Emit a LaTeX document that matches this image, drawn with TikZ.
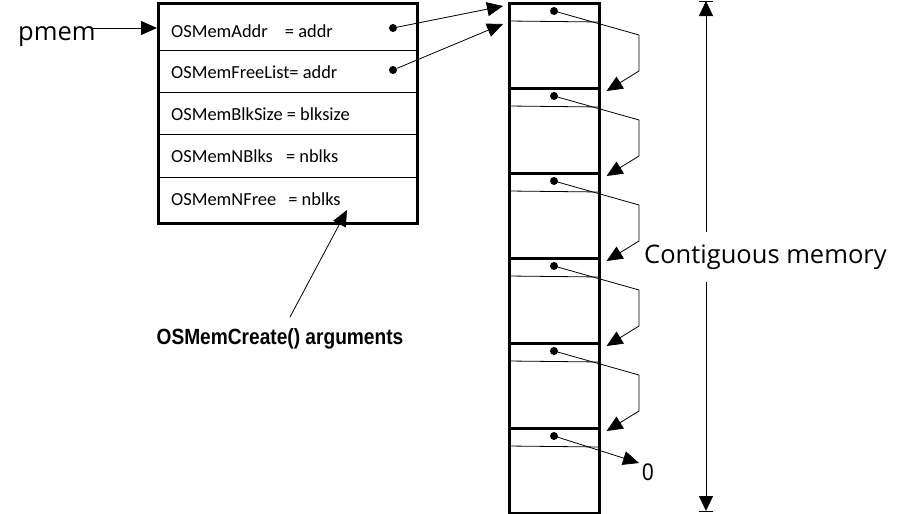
\documentclass[tikz,border=0pt]{standalone}
\usepackage{fontspec}
\setmainfont{Carlito}
\newfontfamily\opensans{Open Sans}
\newfontfamily\narrowfont[FakeStretch=0.87]{Liberation Sans}
\usetikzlibrary{arrows.meta,calc}
\begin{document}
\begin{tikzpicture}[x=1pt,y=-1pt,
  conn/.style={line width=0.8pt},
  arr/.style={conn,-{Triangle[length=16pt,width=14pt]}},
  darr/.style={conn,{Triangle[length=15pt,width=14pt]}-{Triangle[length=15pt,width=14pt]}},
  rowbox/.style={draw,line width=0.8pt,minimum width=259pt,inner sep=0pt,anchor=north west},
  outerbox/.style={draw,line width=2.6pt,minimum width=259pt,minimum height=220pt,inner sep=0pt,anchor=north west},
  memblk/.style={draw,line width=2.6pt,minimum width=90pt,minimum height=85pt,inner sep=0pt,anchor=north west},
  field/.style={anchor=base west,inner sep=0pt,font=\fontsize{18.4}{22}\selectfont},
  dot/.style={circle,fill,inner sep=0pt,minimum size=8pt},
  bigsans/.style={font=\opensans\fontsize{25.5}{30}\selectfont,inner sep=0pt},
  narrowlbl/.style={font=\narrowfont\bfseries\fontsize{22}{26}\selectfont,inner sep=0pt}
]
\useasboundingbox (0,0) rectangle (905,514);

% control block rows
\node[rowbox,minimum height=48pt] (r1) at (157,2) {};
\node[rowbox,minimum height=42pt] (r2) at (157,50) {};
\node[rowbox,minimum height=42pt] (r3) at (157,92) {};
\node[rowbox,minimum height=43pt] (r4) at (157,134) {};
\node[rowbox,minimum height=45pt] (r5) at (157,177) {};
\node[outerbox] (ctrl) at (157,2) {};

\node[field] (t1) at (171,37) {OSMemAddr\hspace{13pt} = addr};
\node[field] (t2) at (171,78.5) {OSMemFreeList= addr};
\node[field] (t3) at (171,120.5) {OSMemBlkSize = blksize};
\node[field] (t4) at (171,162.5) {OSMemNBlks\hspace{9pt} = nblks};
\node[field] (t5) at (171,205) {OSMemNFree\hspace{8pt} = nblks};

\node[dot] (d1) at (393,28) {};
\node[dot] (d2) at (393,70) {};

% pmem
\node[bigsans,anchor=base west] (pmem) at (18,40) {pmem};
\coordinate (pa) at (93,28);
\draw[arr] (pa) -- (ctrl.west |- pa);

% memory blocks
\foreach \i/\t in {0/2,1/87,2/172,3/257,4/342,5/427}{
  \node[memblk] (b\i) at (508,\t) {};
  \draw[line width=0.8pt] ($(b\i.north west)+(0,19)$) -- ($(b\i.north east)+(0,20)$);
  \node[dot] (c\i) at (554,\t+9) {};
}

% pointers from control block into memory
\coordinate (m1) at (503,6);
\coordinate (m2) at (503,24);
\draw[arr] (d1) -- (m1);
\draw[arr] (d2) -- (m2);

% free list chain
\foreach \i/\j in {0/1,1/2,2/3,3/4,4/5}{
  \draw[arr] (c\i.center) -- ++(85,24) -- ++(0,36) -- ($(b\j.north east)+(6,4)$);
}
\node[font=\narrowfont\fontsize{24}{28}\selectfont,inner sep=0pt,anchor=base west] (zero) at (642,480) {0};
\coordinate (zt) at (639,463);
\draw[arr] (c5.center) -- (zt);

% contiguous memory dimension
\coordinate (dt) at (706,1);
\coordinate (db) at (706,511);
\draw[darr] (dt) -- (db);
\draw[conn] ($(dt)+(-7,0)$) -- ($(dt)+(7,0)$);
\draw[conn] ($(db)+(-7,0)$) -- ($(db)+(7,0)$);
\node[bigsans,fill=white,minimum height=50pt,anchor=west] (cm) at (644,257) {Contiguous memory};

% OSMemCreate() arguments
\node[narrowlbl,anchor=base] (lbl) at (280,344) {OSMemCreate() arguments};
\coordinate (la) at (290,317);
\coordinate (lt) at (347,210);
\draw[arr] (la) -- (lt);
\end{tikzpicture}
\end{document}
